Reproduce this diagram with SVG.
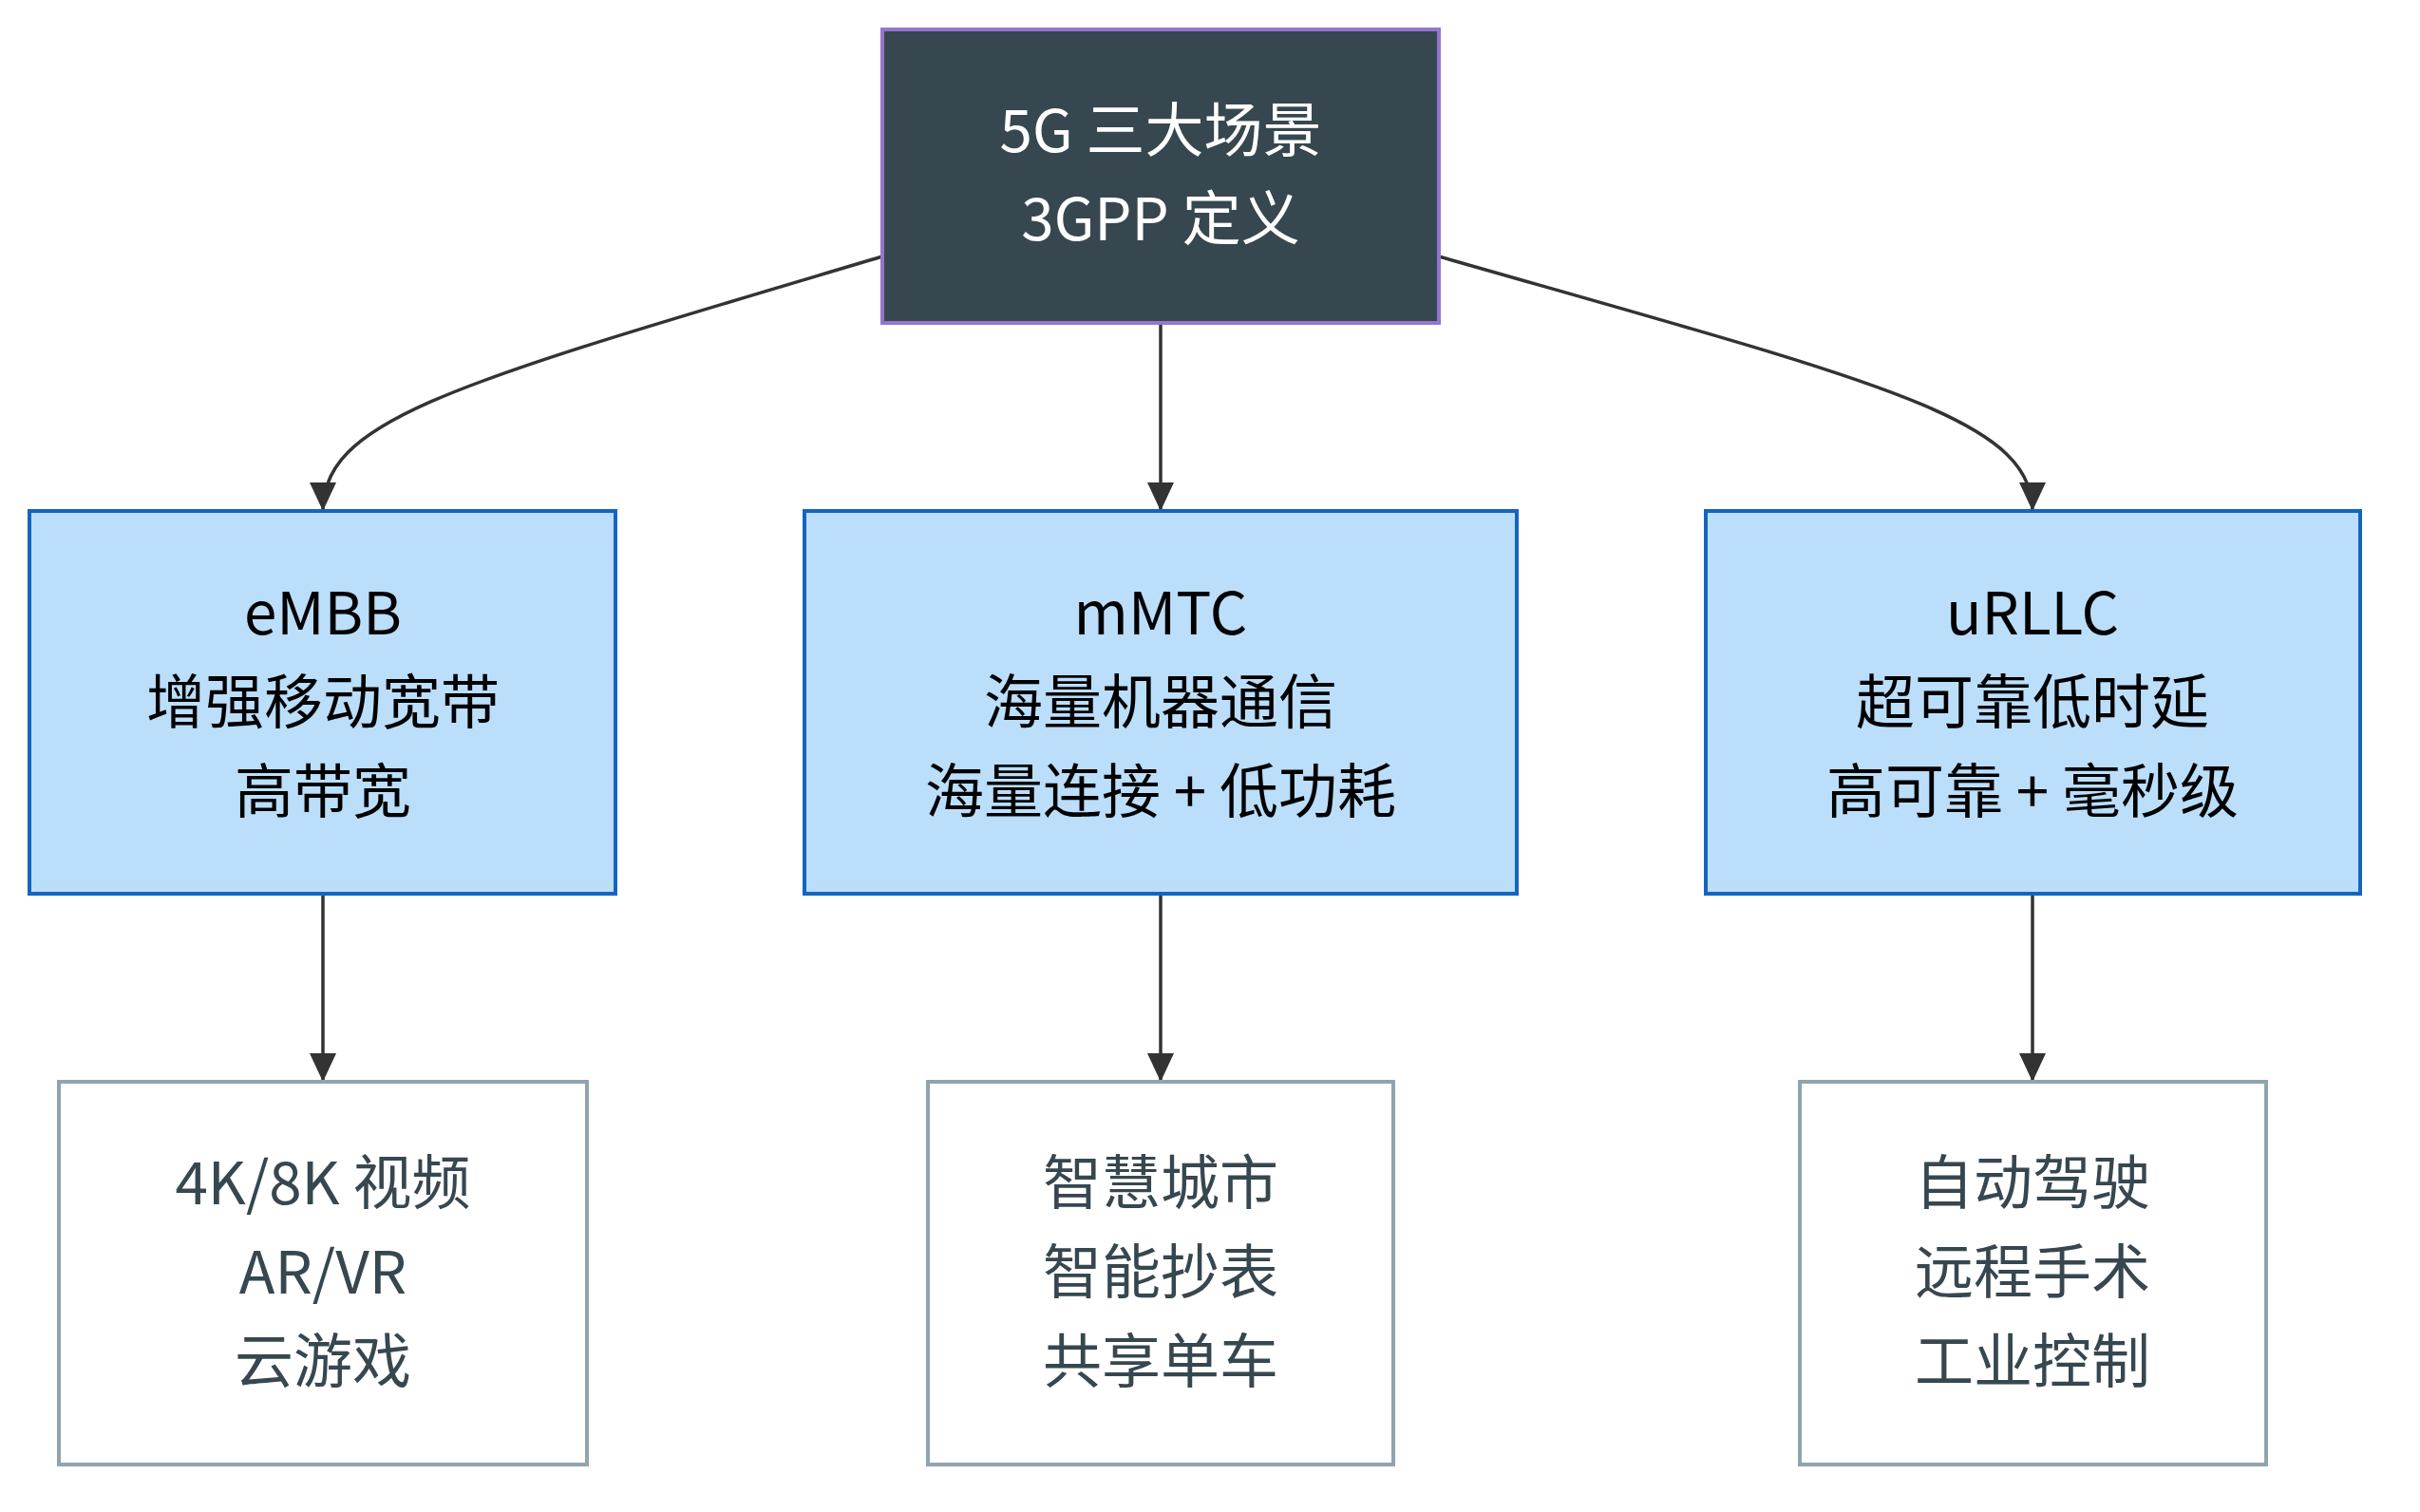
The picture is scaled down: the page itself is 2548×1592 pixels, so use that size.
<svg xmlns="http://www.w3.org/2000/svg" width="2548" height="1592" viewBox="0 0 2548 1592">
<defs>
<style>
.t{font-family:"Noto Sans CJK SC","Noto Sans",sans-serif;font-size:62px;text-anchor:middle;dominant-baseline:central}
.root rect{fill:#37474f;stroke:#9575cd;stroke-width:4}
.root text{fill:#ffffff}
.cat rect{fill:#bbdefb;stroke:#1565c0;stroke-width:4}
.cat text{fill:#000000}
.app rect{fill:#ffffff;stroke:#90a4ae;stroke-width:4}
.app text{fill:#37474f}
.edge{fill:none;stroke:#333333;stroke-width:3.5;marker-end:url(#arr)}
</style>
<marker id="arr" markerUnits="userSpaceOnUse" markerWidth="30" markerHeight="28" viewBox="0 0 30 28" refX="30" refY="14" orient="auto">
<path d="M0,0 L30,14 L0,28 z" fill="#333333"/>
</marker>
</defs>
<rect width="2548" height="1592" fill="#ffffff"/>
<g id="connectors">
<path class="edge" d="M929,270 C483,403 340,440 340,538"/>
<path class="edge" d="M1222,340 L1222,538"/>
<path class="edge" d="M1515,270 C1980,403 2140,440 2140,538"/>
<path class="edge" d="M340,941 L340,1139"/>
<path class="edge" d="M1222,941 L1222,1139"/>
<path class="edge" d="M2140,941 L2140,1139"/>
</g>
<g id="root" class="root">
<rect x="929" y="31" width="586" height="309"/>
<text class="t" x="1222" y="133">5G 三大场景</text>
<text class="t" x="1222" y="226">3GPP 定义</text>
</g>
<g id="embb" class="cat">
<rect x="31" y="538" width="617" height="403"/>
<text class="t" x="340" y="641">eMBB</text>
<text class="t" x="340" y="735">增强移动宽带</text>
<text class="t" x="340" y="829">高带宽</text>
</g>
<g id="mmtc" class="cat">
<rect x="847" y="538" width="750" height="403"/>
<text class="t" x="1222" y="641">mMTC</text>
<text class="t" x="1222" y="735">海量机器通信</text>
<text class="t" x="1222" y="829">海量连接 + 低功耗</text>
</g>
<g id="urllc" class="cat">
<rect x="1796" y="538" width="689" height="403"/>
<text class="t" x="2140" y="641">uRLLC</text>
<text class="t" x="2140" y="735">超可靠低时延</text>
<text class="t" x="2140" y="829">高可靠 + 毫秒级</text>
</g>
<g id="embb-apps" class="app">
<rect x="62" y="1139" width="556" height="403"/>
<text class="t" x="340" y="1241">4K/8K 视频</text>
<text class="t" x="340" y="1335">AR/VR</text>
<text class="t" x="340" y="1429">云游戏</text>
</g>
<g id="mmtc-apps" class="app">
<rect x="977" y="1139" width="490" height="403"/>
<text class="t" x="1222" y="1241">智慧城市</text>
<text class="t" x="1222" y="1335">智能抄表</text>
<text class="t" x="1222" y="1429">共享单车</text>
</g>
<g id="urllc-apps" class="app">
<rect x="1895" y="1139" width="491" height="403"/>
<text class="t" x="2140" y="1241">自动驾驶</text>
<text class="t" x="2140" y="1335">远程手术</text>
<text class="t" x="2140" y="1429">工业控制</text>
</g>
</svg>
